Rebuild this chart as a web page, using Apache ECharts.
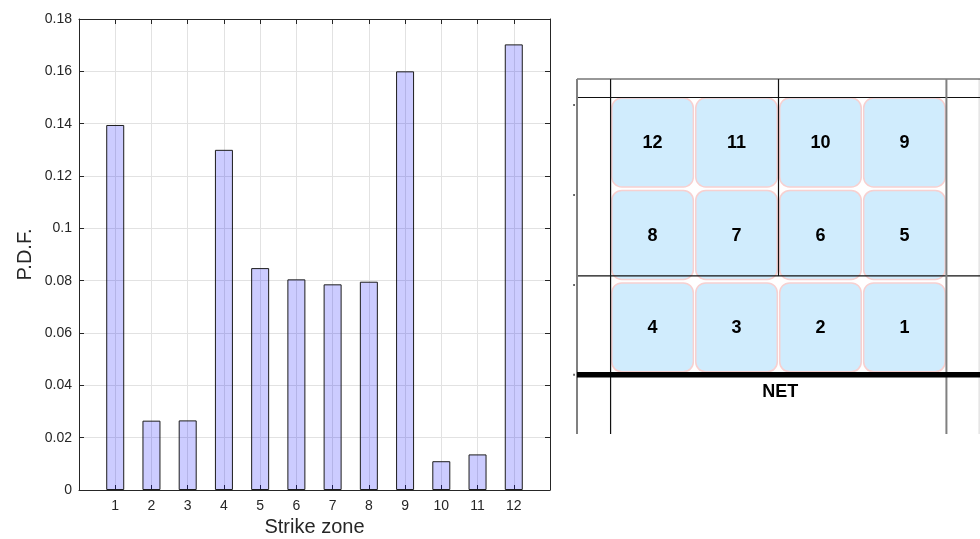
<!DOCTYPE html>
<html>
<head>
<meta charset="utf-8">
<title>Strike zone P.D.F.</title>
<script src="https://cdn.jsdelivr.net/npm/echarts@6/dist/echarts.min.js"></script>
<style>
  html, body { margin: 0; padding: 0; background: #fff; }
  #chart { width: 980px; height: 539px; }
</style>
</head>
<body>
<div id="chart"></div>
<script>
// ---- bar chart data ----
const zones = [1, 2, 3, 4, 5, 6, 7, 8, 9, 10, 11, 12];
const pdf = [0.1395, 0.0265, 0.0266, 0.130, 0.0848, 0.0805, 0.0786, 0.0796, 0.160, 0.0110, 0.0136, 0.1703];
const xTickLabels = ['1', '2', '3', '4', '5', '6', '7', '8', '9', '10', '11', '12'];
const yTickLabels = ['0', '0.02', '0.04', '0.06', '0.08', '0.1', '0.12', '0.14', '0.16', '0.18'];

// ---- court diagram: zone cells (column, row; row 0 is next to the net) ----
const cellZone = [1, 2, 3, 4, 5, 6, 7, 8, 9, 10, 11, 12];
const cellCol = [3, 2, 1, 0, 3, 2, 1, 0, 3, 2, 1, 0];
const cellRow = [0, 0, 0, 0, 1, 1, 1, 1, 2, 2, 2, 2];

// court lines as [x1, y1, x2, y2] in cell units
const courtLines = [
  [-0.4, 3.0, 4.4, 3.0],
  [-0.4, 1.07, 4.4, 1.07],
  [0, 3.2, 0, -0.64],
  [2, 3.2, 2, 1.07]
];
const borderLines = [
  [-0.4, 3.2, 4.4, 3.2]
];
const sideLines = [
  [-0.4, 3.2, -0.4, -0.64],
  [4, 3.2, 4, -0.64]
];
const farLines = [
  [4.39, 3.2, 4.39, -0.64]
];
const netLine = [
  [-0.4, 0, 4.4, 0]
];
const sideTicks = [
  [-0.445, 2.92, -0.425, 2.92],
  [-0.445, 1.946, -0.425, 1.946],
  [-0.445, 0.973, -0.425, 0.973],
  [-0.445, 0, -0.425, 0]
];
const netLabel = ['NET'];
const netLabelPos = [2.02, -0.19];

const FONT = '"Liberation Sans", Arial, Helvetica, sans-serif';
const AXIS_COLOR = '#262626';
const GRID_COLOR = '#e2e2e2';

function segmentSeries(segs, stroke, width) {
  return {
    type: 'custom',
    xAxisIndex: 2,
    yAxisIndex: 2,
    silent: true,
    data: segs,
    renderItem: function (params, api) {
      const a = api.coord([api.value(0), api.value(1)]);
      const b = api.coord([api.value(2), api.value(3)]);
      return {
        type: 'line',
        shape: { x1: a[0], y1: a[1], x2: b[0], y2: b[1] },
        style: { stroke: stroke, lineWidth: width }
      };
    }
  };
}

const chart = echarts.init(document.getElementById('chart'), null, { renderer: 'canvas' });

const option = {
  animation: false,
  backgroundColor: '#ffffff',
  grid: [
    { left: 79, right: 430, top: 19, bottom: 49, outerBoundsMode: 'none', containLabel: false },
    { left: 577, right: 0, top: 79, bottom: 105, outerBoundsMode: 'none', containLabel: false }
  ],
  xAxis: [
    {
      gridIndex: 0, type: 'value', min: 0, max: 13, interval: 1,
      axisLine: { show: true, onZero: false, lineStyle: { color: AXIS_COLOR, width: 1 } },
      axisTick: { show: true, inside: true, length: 5, lineStyle: { color: AXIS_COLOR } },
      axisLabel: {
        show: true, margin: 9, color: AXIS_COLOR, fontSize: 14, fontFamily: FONT,
        formatter: function (v) {
          const i = Math.round(v) - 1;
          return (i >= 0 && i < xTickLabels.length) ? xTickLabels[i] : '';
        }
      },
      splitLine: { show: true, lineStyle: { color: GRID_COLOR, width: 1 } },
      name: 'Strike zone', nameLocation: 'middle', nameGap: 27,
      nameTextStyle: { color: AXIS_COLOR, fontSize: 20, fontFamily: FONT }
    },
    {
      gridIndex: 0, type: 'value', position: 'top', min: 0, max: 13, interval: 1,
      axisLine: { show: true, onZero: false, lineStyle: { color: AXIS_COLOR, width: 1 } },
      axisTick: { show: true, inside: true, length: 5, lineStyle: { color: AXIS_COLOR } },
      axisLabel: { show: false },
      splitLine: { show: false }
    },
    { gridIndex: 1, type: 'value', min: -0.4, max: 4.4, show: false }
  ],
  yAxis: [
    {
      gridIndex: 0, type: 'value', min: 0, max: 0.18, interval: 0.02,
      axisLine: { show: true, onZero: false, lineStyle: { color: AXIS_COLOR, width: 1 } },
      axisTick: { show: true, inside: true, length: 5, lineStyle: { color: AXIS_COLOR } },
      axisLabel: {
        show: true, margin: 7, color: AXIS_COLOR, fontSize: 14, fontFamily: FONT,
        formatter: function (v) {
          const i = Math.round(v / 0.02);
          return yTickLabels[i] !== undefined ? yTickLabels[i] : '';
        }
      },
      splitLine: { show: true, lineStyle: { color: GRID_COLOR, width: 1 } },
      name: 'P.D.F.', nameLocation: 'middle', nameGap: 44, nameRotate: 90,
      nameTextStyle: { color: AXIS_COLOR, fontSize: 20, fontFamily: FONT }
    },
    {
      gridIndex: 0, type: 'value', position: 'right', min: 0, max: 0.18, interval: 0.02,
      axisLine: { show: true, onZero: false, lineStyle: { color: AXIS_COLOR, width: 1 } },
      axisTick: { show: true, inside: true, length: 5, lineStyle: { color: AXIS_COLOR } },
      axisLabel: { show: false },
      splitLine: { show: false }
    },
    { gridIndex: 1, type: 'value', min: -0.64, max: 3.2, show: false }
  ],
  series: [
    {
      type: 'bar',
      xAxisIndex: 0,
      yAxisIndex: 0,
      barWidth: 18,
      data: zones.map(function (z, i) { return [z, pdf[i]]; }),
      itemStyle: {
        color: 'rgba(0, 0, 255, 0.2)',
        borderColor: '#1c1c1c',
        borderWidth: 1
      },
      silent: true
    },
    // zone cells with their numbers
    {
      type: 'custom',
      xAxisIndex: 2,
      yAxisIndex: 2,
      silent: true,
      data: cellZone.map(function (z, i) { return [cellCol[i], cellRow[i], z]; }),
      renderItem: function (params, api) {
        const c = api.value(0), r = api.value(1);
        const tl = api.coord([c, r + 1]);
        const br = api.coord([c + 1, r]);
        const x = tl[0] + 1.2, y = tl[1] + 0.5;
        const w = br[0] - tl[0] - 2.4, h = br[1] - tl[1] - 3.5;
        return {
          type: 'group',
          children: [
            {
              type: 'rect',
              shape: { x: x, y: y, width: w, height: h, r: 10 },
              style: { fill: '#d0ecfd', stroke: '#f7d0d0', lineWidth: 1.5 }
            },
            {
              type: 'text',
              x: x + w / 2,
              y: y + h / 2 + 1,
              style: {
                text: String(api.value(2)),
                fill: '#000000',
                font: 'bold 18px ' + FONT,
                align: 'center',
                verticalAlign: 'middle'
              }
            }
          ]
        };
      }
    },
    segmentSeries(farLines, '#e4e4e4', 1.5),
    segmentSeries(courtLines, '#111111', 1.2),
    segmentSeries(borderLines, '#333333', 1.2),
    segmentSeries(sideLines, '#808080', 2),
    segmentSeries(sideTicks, '#555555', 2),
    segmentSeries(netLine, '#000000', 5.5),
    {
      type: 'custom',
      xAxisIndex: 2,
      yAxisIndex: 2,
      silent: true,
      data: [[netLabelPos[0], netLabelPos[1]]],
      renderItem: function (params, api) {
        const p = api.coord([api.value(0), api.value(1)]);
        return {
          type: 'text',
          x: p[0],
          y: p[1],
          style: {
            text: netLabel[0],
            fill: '#000000',
            font: 'bold 18px ' + FONT,
            align: 'center',
            verticalAlign: 'middle'
          }
        };
      }
    }
  ]
};

chart.setOption(option);
</script>
</body>
</html>
